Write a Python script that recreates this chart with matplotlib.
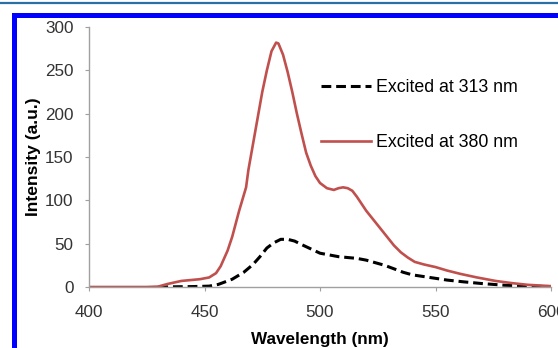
import matplotlib.pyplot as plt
from matplotlib.patches import Rectangle
from matplotlib.lines import Line2D

plt.rcParams['font.family'] = ['Liberation Sans', 'DejaVu Sans']

# emission spectra, excitation at 313 nm and 380 nm
wl_313 = [430, 445, 452, 456, 462, 467, 471, 474, 477, 480, 483, 486, 489, 492,
          496, 500, 504, 508, 512, 516, 520, 524, 528, 532, 536, 540, 545, 550,
          555, 562, 570, 580, 590, 600]
int_313 = [0, 0.5, 1, 3, 9, 17, 26, 35, 45, 51, 55, 55, 53, 49,
           44, 39, 37, 35, 34, 33, 31, 28, 25, 21, 17, 14, 12, 10,
           8, 6, 4, 2, 1, 0.5]

wl_380 = [400, 425, 430, 434, 440, 448, 452, 455, 457, 460, 462, 465, 468, 469,
          471, 473, 475, 477, 479, 481, 482, 484, 486, 488, 490, 492, 494, 496,
          498, 500, 503, 506, 508, 510, 512, 514, 516, 518, 520, 523, 526, 529,
          532, 535, 538, 541, 545, 550, 555, 561, 568, 576, 583, 590, 600]
int_380 = [0, 0, 0.5, 3.5, 7, 9, 11, 16, 24, 42, 58, 88, 115, 135,
           165, 195, 225, 250, 272, 282, 281, 268, 248, 225, 200, 177, 155, 140,
           128, 120, 114, 112, 114, 115, 114, 111, 104, 96, 88, 78, 68, 58,
           48, 40, 34, 29, 26, 23, 19, 15, 11, 7, 4.5, 2.5, 1]

xticks = [400, 450, 500, 550, 600]
yticks = [0, 50, 100, 150, 200, 250, 300]

fig = plt.figure(figsize=(5.58, 3.48), dpi=100)
ax = fig.add_axes([89 / 558, 61 / 348, 462 / 558, 260 / 348])

ax.plot(wl_313, int_313, color='black', lw=2.2, dashes=(3.2, 1.6),
        label='Excited at 313 nm')
ax.plot(wl_380, int_380, color='#C0504D', lw=1.9, label='Excited at 380 nm')

ax.set_xlim(400, 600)
ax.set_ylim(0, 300)
ax.set_xticks(xticks)
ax.set_yticks(yticks)
for s in ['top', 'right']:
    ax.spines[s].set_visible(False)
for s in ['left', 'bottom']:
    ax.spines[s].set_color('#a0a0a0')
    ax.spines[s].set_linewidth(1.0)
ax.tick_params(axis='both', colors='#a0a0a0', labelcolor='#333333',
               labelsize=12.3, length=3)
ax.tick_params(axis='y', pad=8)
ax.tick_params(axis='x', pad=10)

ax.set_xlabel('Wavelength (nm)', fontsize=12.3, fontweight='bold', labelpad=8.6)
ax.set_ylabel('Intensity (a.u.)', fontsize=12.6, fontweight='bold', labelpad=3)

ax.legend(loc='center left', bbox_to_anchor=(0.4675, 0.662), frameon=False,
          fontsize=12.8, handlelength=2.8, handletextpad=0.28, labelspacing=2.15)

# page frame lines
fig.add_artist(Line2D([0, 1], [1 - 3 / 348, 1 - 3 / 348], color='#2a6fa6',
                      lw=1.6, transform=fig.transFigure))
fig.add_artist(Rectangle((13.5 / 558, -0.1), 1.2, 1.1 - 14.5 / 348,
                         fill=False, edgecolor='#0000ff', lw=3.6,
                         transform=fig.transFigure))

fig.savefig('out.png', dpi=100)
